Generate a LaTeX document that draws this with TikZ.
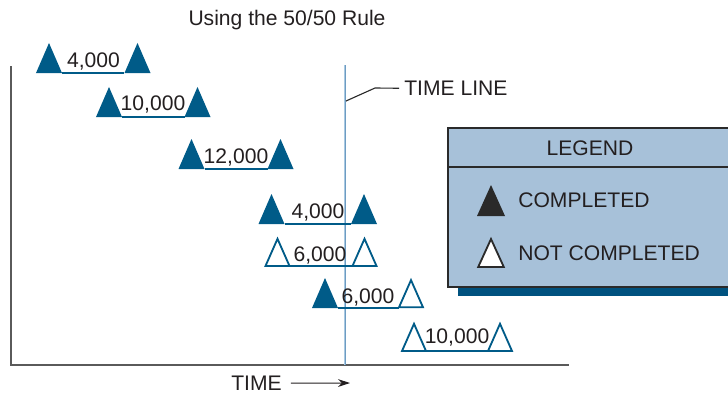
\documentclass[tikz,border=0pt]{standalone}
\usepackage{fontspec}
\setmainfont{Liberation Sans}
\usetikzlibrary{shapes.geometric,arrows.meta}
\definecolor{msblue}{HTML}{005B88}
\definecolor{tllight}{HTML}{A9C9E2}
\definecolor{tlcore}{HTML}{6E9CC2}
\definecolor{legfill}{HTML}{A7C1D9}
\definecolor{legdark}{HTML}{2A2A2A}
\definecolor{shadowblue}{HTML}{00527F}
\definecolor{axisgray}{HTML}{5A5A5A}
\definecolor{txtgray}{HTML}{231F20}
\tikzset{
    >=Stealth,
    tri/.style={isosceles triangle,isosceles triangle stretches,
        shape border rotate=90,inner sep=0pt,outer sep=0pt,anchor=lower side,
        minimum width=0.65cm,minimum height=0.75cm},
    done/.style={tri,fill=msblue},
    todo/.style={tri,draw=msblue,fill=white,line width=1.3pt,
        minimum width=0.6cm,minimum height=0.68cm},
    legdone/.style={tri,fill=legdark,minimum width=0.7cm,minimum height=0.775cm},
    legtodo/.style={tri,draw=legdark,fill=white,line width=1.3pt,
        minimum width=0.64cm,minimum height=0.7cm},
    bar/.style={draw=msblue,line width=1pt},
    amount/.style={font=\fontsize{15}{18}\selectfont,text=txtgray,inner sep=0pt,anchor=base}
}

\begin{document}
\begin{tikzpicture}[x=0.025cm,y=-0.025cm]
\useasboundingbox (0,0) rectangle (728,397);

% Title
\node[amount] (title) at (287,25.5) {Using the 50/50 Rule};

% Axes
\coordinate (ytop) at (11,66);
\coordinate (origin) at (11,365);
\coordinate (xend) at (569,365);
\draw[axisgray,line width=1.4pt] (ytop) -- (origin) -- (xend);

% Time line
\coordinate (tltop) at (345,65);
\coordinate (tlbot) at (345,365);
\draw[tllight,line width=2pt] (tltop) -- (tlbot);
\draw[tlcore,line width=0.5pt] (tltop) -- (tlbot);
\node[amount,anchor=base west] (tllabel) at (404,95.5) {TIME LINE};
\coordinate (tlhook) at (346,101);
\coordinate (tlknee) at (375,88);
\draw[legdark,line width=0.8pt] (tlhook) -- (tlknee) -- ([xshift=-0.12cm]tllabel.west);

% Milestones
\node[done] (s1) at (49,73) {};
\node[done] (f1) at (137.5,73) {};
\node[done] (s2) at (109,117) {};
\node[done] (f2) at (197.5,117) {};
\node[done] (s3) at (191.5,169) {};
\node[done] (f3) at (280.5,169) {};
\node[done] (s4) at (271.5,224) {};
\node[done] (f4) at (364,224) {};
\node[todo] (s5) at (277.5,266) {};
\node[todo] (f5) at (364.5,266) {};
\node[done] (s6) at (325,308) {};
\node[todo] (f6) at (411,307.3) {};
\node[todo] (s7) at (414,351) {};
\node[todo] (f7) at (500,351) {};

% Bars
\draw[bar] (s1.right corner) -- (f1.left corner);
\draw[bar] (s2.right corner) -- (f2.left corner);
\draw[bar] (s3.right corner) -- (f3.left corner);
\draw[bar] (s4.right corner) -- (f4.left corner);
\draw[bar] (s5.right corner) -- (f5.left corner);
\draw[bar] (s6.right corner) -- (s6.right corner -| f6.left corner);
\draw[bar] (s7.right corner) -- (f7.left corner);

% Amounts
\node[amount] (c1) at (93.5,67.5) {4,000};
\node[amount] (c2) at (153,110.5) {10,000};
\node[amount] (c3) at (236,163.5) {12,000};
\node[amount] (c4) at (318,218.5) {4,000};
\node[amount] (c5) at (320,261.5) {6,000};
\node[amount] (c6) at (368,303.5) {6,000};
\node[amount] (c7) at (457,343.5) {10,000};

% Legend
\fill[shadowblue] (458,137) rectangle (740,296);
\draw[legdark,fill=legfill,line width=1.3pt] (448,128) rectangle (740,287);
\draw[legdark,line width=1.3pt] (448,167) -- (740,167);
\node[amount] (legtitle) at (590,155.5) {LEGEND};
\node[legdone] (kdone) at (491,216) {};
\node[legtodo] (ktodo) at (491,267) {};
\node[amount,anchor=base west] (kdonetxt) at (518,207.5) {COMPLETED};
\node[amount,anchor=base west] (ktodotxt) at (518,260.5) {NOT COMPLETED};

% Time arrow
\node[amount,anchor=base west] (timelbl) at (231,390.5) {TIME};
\coordinate (timeend) at (350,383);
\draw[->,>={Stealth[length=8.5pt,width=5.5pt]},txtgray,line width=0.7pt,shorten <=0.225cm]
    (timelbl.east) -- (timeend);

\end{tikzpicture}
\end{document}
